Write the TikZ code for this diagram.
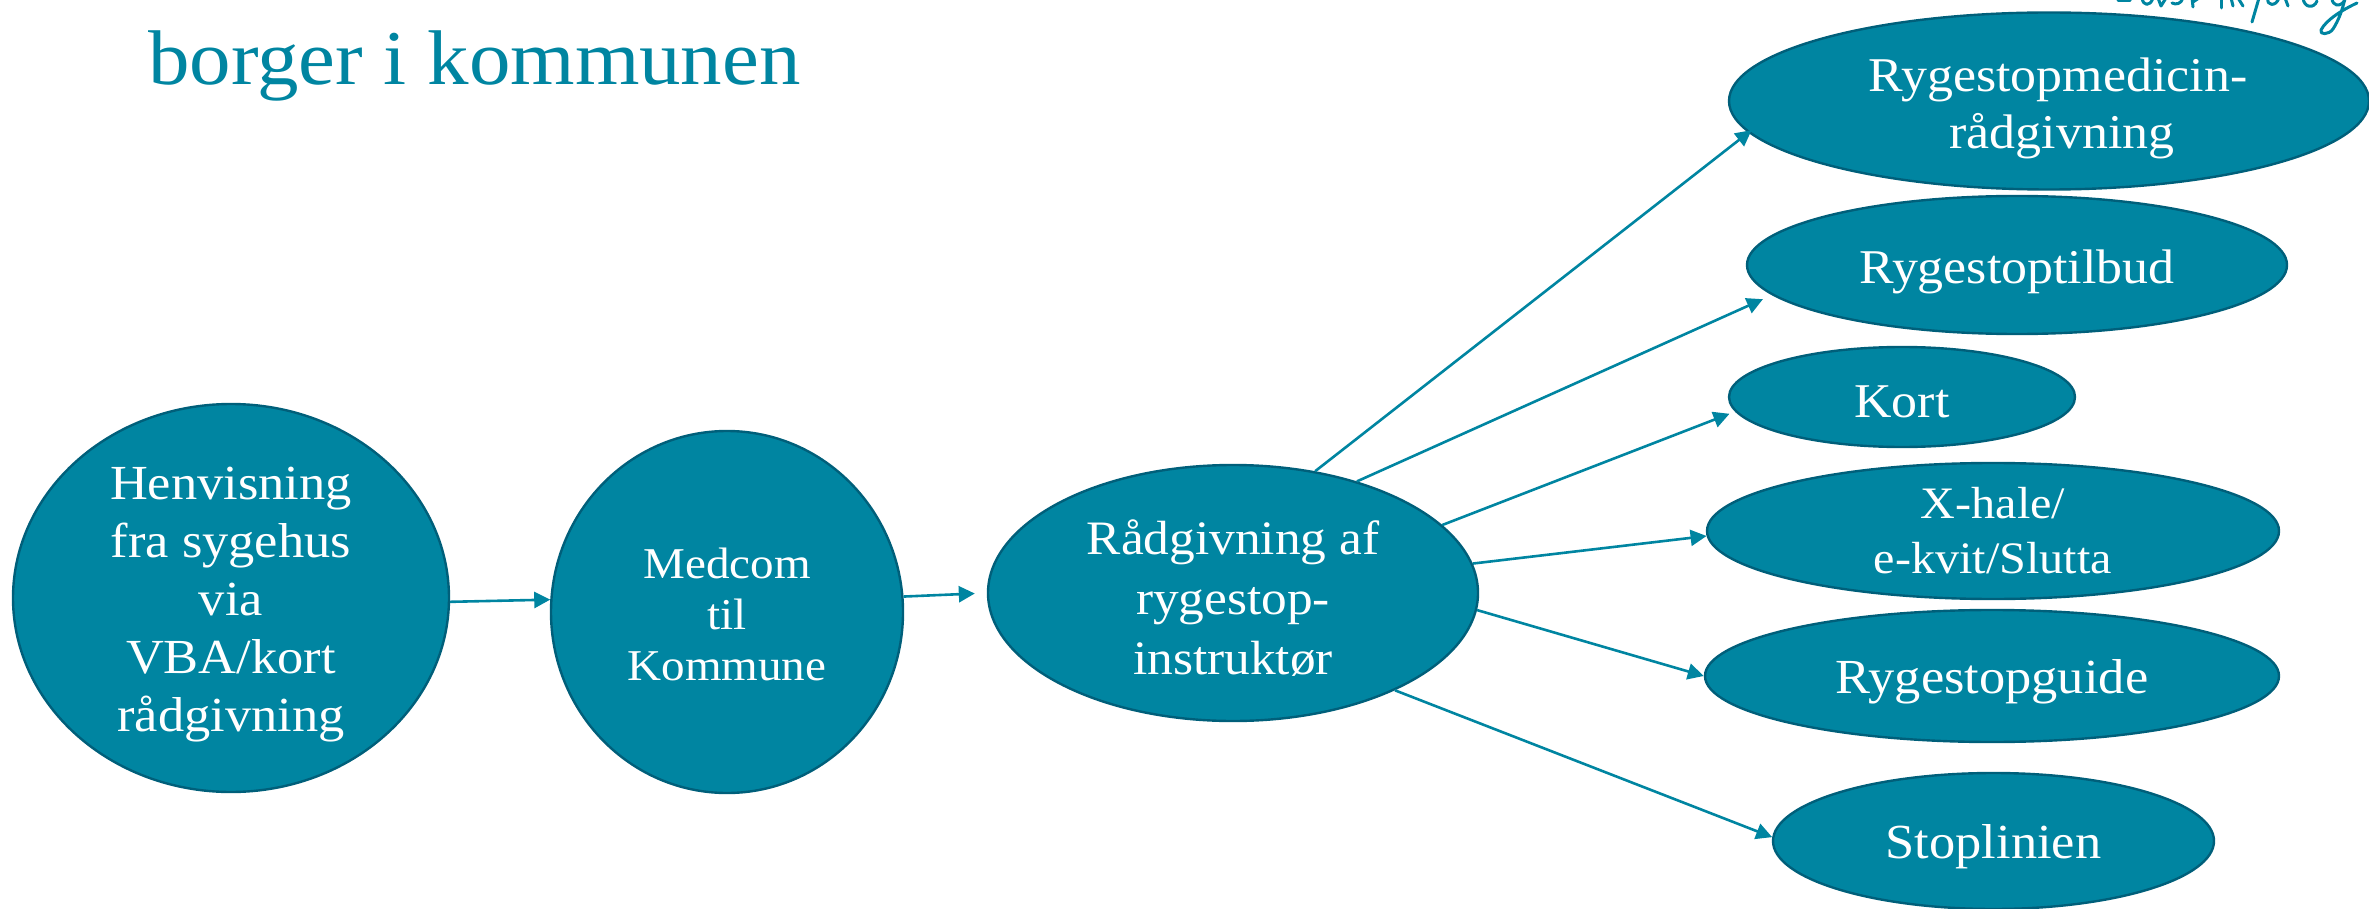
\documentclass[tikz,border=0pt]{standalone}
\usepackage{fontspec}
\setmainfont[FakeStretch=1.07]{Liberation Serif}
\usetikzlibrary{shapes.geometric,arrows.meta}
\definecolor{teal1}{HTML}{0085A1}
\definecolor{teal2}{HTML}{005F7A}
\newcommand{\fs}[1]{\fontsize{#1}{#1}\selectfont}
\newcommand{\dn}[2]{\rule{0pt}{\dimexpr #1pt+#2pt+#2pt\relax}}
\tikzset{
  oval/.style={ellipse,draw=teal2,fill=teal1,line width=2.4pt,inner sep=0pt,text=white,align=center},
  conn/.style={draw=teal1,line width=2.6pt,-{Triangle[length=16pt,width=16pt]}},
  script/.style={draw=teal1,line width=3pt,line cap=round,line join=round},
}
\begin{document}
\begin{tikzpicture}[x=1pt,y=-1pt]
\useasboundingbox (0,0) rectangle (2369,909);
\node[anchor=base west,text=teal1,inner sep=0pt,font=\fs{77.5}] (title) at (148,85) {borger i kommunen};

\begin{scope}
\clip (2100,0) rectangle (2369,40);
\draw[script] (2118,1) -- (2130,1);
\draw[script] (2142,-2) .. controls (2143,6) and (2150,7) .. (2153,-2);
\draw[script] (2158,-2) -- (2161,6) -- (2166,-2);
\draw[script] (2172,3) .. controls (2176,5) and (2181,4) .. (2183,-2);
\draw[script] (2192,-2) -- (2193,7);
\draw[script] (2193,2) -- (2199,-2);
\draw[script] (2221,-2) -- (2221,8);
\draw[script] (2231,-2) -- (2233,6);
\draw[script] (2238,-2) -- (2243,6);
\draw[script] (2259,-2) -- (2252,22);
\draw[script] (2268,-2) .. controls (2266,6) and (2276,7) .. (2279,-2);
\draw[script] (2285,-2) -- (2288,6);
\draw[script] (2303,-2) .. controls (2304,8) and (2314,9) .. (2317,1);
\draw[script] (2357,3) .. controls (2342,10) and (2326,20) .. (2321,30) .. controls (2319,35) and (2329,35) .. (2333,29) .. controls (2338,21) and (2342,12) .. (2345,-2);
\draw[script] (2332,-2) .. controls (2332,6) and (2340,8) .. (2345,0);
\end{scope}

\node[oval,inner ysep=-20pt,minimum width=436pt,minimum height=388pt,font={\fontsize{49}{58}\selectfont}] (a) at (231,598) {\dn{34}{6}Henvisning\\fra sygehus\\via\\VBA/kort\\rådgivning};
\node[oval,minimum width=352pt,minimum height=362pt,font={\fontsize{44}{51}\selectfont}] (b) at (727,612) {\dn{30}{3}Medcom\\til\\Kommune};
\node[oval,inner ysep=-10pt,minimum width=490pt,minimum height=256pt,font={\fontsize{48}{60}\selectfont}] (c) at (1233,593) {\dn{33}{6}Rådgivning af\\rygestop-\\instruktør};
\node[oval,minimum width=640pt,minimum height=177pt,font={\fontsize{48.5}{57}\selectfont}] (d) at (2049,101) {\dn{33}{8}\hspace*{18pt}Rygestopmedicin-\\\hspace*{26pt}rådgivning};
\node[oval,minimum width=540pt,minimum height=138pt,font=\fs{48.5}] (e) at (2017,265) {\dn{33}{7}Rygestoptilbud};
\node[oval,minimum width=346pt,minimum height=100pt,font=\fs{48.5}] (f) at (1902,397) {\dn{33}{4}Kort};
\node[oval,minimum width=572pt,minimum height=136pt,font={\fontsize{45}{55}\selectfont}] (g) at (1993,531) {X-hale/\\e-kvit/Slutta};
\node[oval,minimum width=574pt,minimum height=132pt,font=\fs{49}] (h) at (1992,676) {\dn{33}{6}Rygestopguide};
\node[oval,minimum width=441pt,minimum height=136pt,font=\fs{49}] (i) at (1993.5,841) {\dn{33}{6}Stoplinien};

\draw[conn] (a.-1.2) -- (b.176.5);
\draw[conn,shorten >=12pt] (b.5.8) -- (c.180);
\draw[conn,shorten >=-4pt] (c.56.4) -- (d.186);
\draw[conn,shorten >=10pt] (c.42.8) -- (e.187);
\draw[conn,shorten >=6pt] (c.18) -- (f.185);
\draw[conn] (c.7.1) -- (g.181.2);
\draw[conn] (c.-4.4) -- (h.180);
\draw[conn] (c.-31) -- (i.179);
\end{tikzpicture}
\end{document}
